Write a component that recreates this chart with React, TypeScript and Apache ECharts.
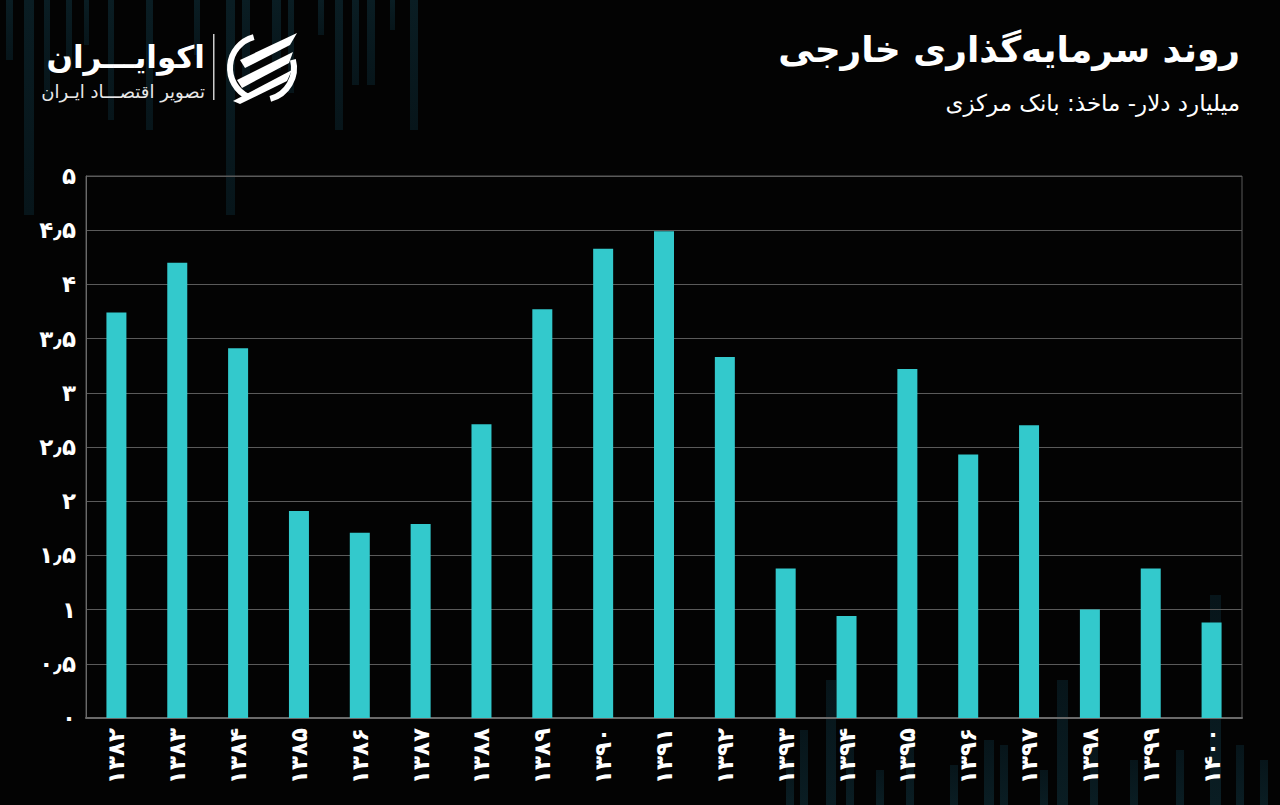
import React, { useEffect, useRef } from "react";
import * as echarts from "echarts";

const years = [1382, 1383, 1384, 1385, 1386, 1387, 1388, 1389, 1390, 1391, 1392, 1393, 1394, 1395, 1396, 1397, 1398, 1399, 1400];
const investment = [3.74, 4.2, 3.41, 1.91, 1.71, 1.79, 2.71, 3.77, 4.33, 4.49, 3.33, 1.38, 0.94, 3.22, 2.43, 2.7, 1.0, 1.38, 0.88];
const titleText = "روند سرمایه‌گذاری خارجی";
const subtitleText = "میلیارد دلار- ماخذ: بانک مرکزی";
const brandName = "اکوایـــران";
const brandTagline = "تصویر اقتصـــاد ایـران";

// decorative background strips [x, width, extent]
const topStrips = [
  [6, 7, 60], [24, 10, 215], [44, 6, 100], [66, 6, 70], [84, 5, 45], [108, 6, 120], [146, 7, 130],
  [194, 6, 55], [226, 9, 215], [242, 8, 90], [272, 9, 70], [288, 6, 93], [318, 6, 35], [335, 8, 130],
  [352, 7, 85], [367, 8, 85], [390, 5, 30], [410, 8, 130],
];
const bottomStrips = [
  [786, 8, 760], [800, 8, 730], [826, 10, 680], [846, 8, 740], [876, 8, 770], [906, 8, 740], [950, 8, 765],
  [984, 10, 740], [1000, 8, 745], [1040, 8, 770], [1057, 11, 680], [1090, 8, 745], [1130, 8, 760],
  [1176, 8, 750], [1210, 11, 595], [1236, 8, 745], [1260, 8, 760],
];

const faDigits = "۰۱۲۳۴۵۶۷۸۹";
const toFa = (s: string) => s.replace(/\d/g, (d) => faDigits[+d]).replace(/\./g, "٫");

const FONT = "'DejaVu Sans', sans-serif";

export default function App() {
  const ref = useRef<HTMLDivElement>(null);
  useEffect(() => {
    if (!ref.current) return;
    const chart = echarts.init(ref.current, undefined, { renderer: "svg" });
    const decor: any[] = [];
    topStrips.forEach(([x, w, h]) => {
      decor.push({
        type: "rect",
        z: -10,
        shape: { x, y: 0, width: w, height: h },
        style: {
          fill: new echarts.graphic.LinearGradient(0, 0, 0, 1, [
            { offset: 0, color: "#0a1d23" },
            { offset: 1, color: "#07151a" },
          ]),
        },
      });
    });
    bottomStrips.forEach(([x, w, top]) => {
      decor.push({
        type: "rect",
        z: -10,
        shape: { x, y: top, width: w, height: 805 - top },
        style: {
          fill: new echarts.graphic.LinearGradient(0, 0, 0, 1, [
            { offset: 0, color: "#07151a" },
            { offset: 1, color: "#0a1d23" },
          ]),
        },
      });
    });

    const cx = 262, cy = 68, r = 32;
    const logo: any[] = [
      {
        type: "arc",
        shape: { cx, cy, r, startAngle: (115 * Math.PI) / 180, endAngle: (255 * Math.PI) / 180, clockwise: true },
        style: { stroke: "#ffffff", lineWidth: 6, fill: "none" },
      },
      {
        type: "arc",
        shape: { cx, cy, r, startAngle: (-15 * Math.PI) / 180, endAngle: (75 * Math.PI) / 180, clockwise: true },
        style: { stroke: "#ffffff", lineWidth: 6, fill: "none" },
      },
      {
        type: "polygon",
        shape: { points: [[240, 60], [297, 33], [290, 45], [245, 68]] },
        style: { fill: "#ffffff" },
      },
      {
        type: "polygon",
        shape: { points: [[237, 80], [293, 52], [289, 63], [242, 88]] },
        style: { fill: "#ffffff" },
      },
      {
        type: "polygon",
        shape: { points: [[233, 101], [292, 70], [287, 81], [240, 104]] },
        style: { fill: "#ffffff" },
      },
      {
        type: "rect",
        shape: { x: 213, y: 34, width: 1.5, height: 66 },
        style: { fill: "#cccccc" },
      },
      {
        type: "text",
        style: {
          text: brandName, x: 205, y: 57, fill: "#ffffff",
          font: `bold 31px ${FONT}`, textAlign: "right", textVerticalAlign: "middle",
        },
      },
      {
        type: "text",
        style: {
          text: brandTagline, x: 205, y: 91, fill: "#e8e8e8",
          font: `18px ${FONT}`, textAlign: "right", textVerticalAlign: "middle",
        },
      },
      {
        type: "text",
        style: {
          text: titleText, x: 1240, y: 49, fill: "#ffffff",
          font: `bold 36px ${FONT}`, textAlign: "right", textVerticalAlign: "middle",
        },
      },
      {
        type: "text",
        style: {
          text: subtitleText, x: 1240, y: 103, fill: "#ffffff",
          font: `23px ${FONT}`, textAlign: "right", textVerticalAlign: "middle",
        },
      },
    ];

    chart.setOption({
      animation: false,
      backgroundColor: "#030303",
      grid: {
        left: 86, right: 38, top: 176, bottom: 87,
        show: true, borderColor: "#5a5a5a", borderWidth: 1, backgroundColor: "transparent",
      },
      xAxis: {
        type: "category",
        data: years.map((y) => toFa(String(y))),
        axisLine: { show: true, lineStyle: { color: "#6a6a6a", width: 2 } },
        axisTick: { show: false },
        axisLabel: {
          rotate: 90, color: "#ffffff", fontSize: 23, fontFamily: FONT, margin: 10, fontWeight: "bold",
        },
      },
      yAxis: {
        type: "value",
        min: 0, max: 5, interval: 0.5,
        axisLine: { show: true, lineStyle: { color: "#6a6a6a", width: 1 } },
        axisTick: { show: false },
        splitLine: { show: true, lineStyle: { color: "#5a5a5a", width: 1 } },
        axisLabel: {
          color: "#ffffff", fontSize: 23, fontFamily: FONT, margin: 10, fontWeight: "bold",
          formatter: (v: number) => toFa(String(v)),
        },
      },
      series: [
        {
          type: "bar",
          data: investment,
          barWidth: 20,
          itemStyle: { color: "#33c9cc" },
        },
      ],
      graphic: [...decor, ...logo],
    });
    return () => chart.dispose();
  }, []);
  return <div ref={ref} style={{ position: "fixed", left: 0, top: 0, width: 1280, height: 805 }} />;
}
